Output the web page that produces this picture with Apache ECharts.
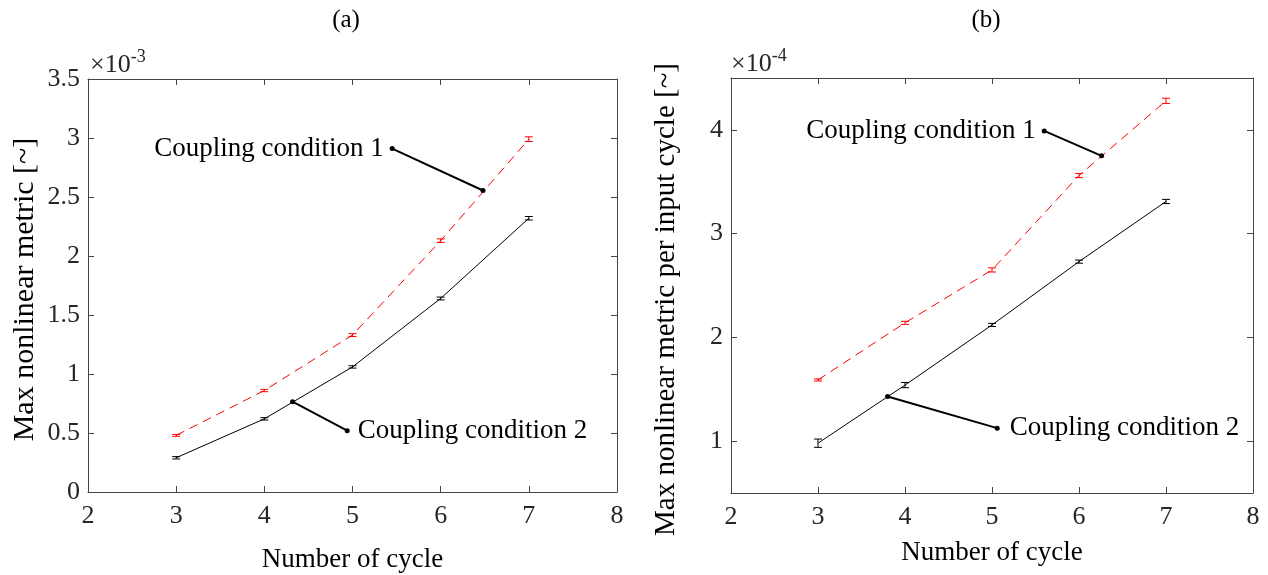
<!DOCTYPE html>
<html><head><meta charset="utf-8">
<script src="https://cdn.jsdelivr.net/npm/echarts@6/dist/echarts.min.js"></script>
<style>html,body{margin:0;padding:0;background:#fff}#c{width:1268px;height:575px}</style>
</head><body><div id="c"></div>
<script>
const xCycles = [3, 4, 5, 6, 7];
// (a) Max nonlinear metric, x1e-3
const aCond1 = [0.48, 0.86, 1.33, 2.13, 2.99];
const aCond1Err = [0.008, 0.01, 0.012, 0.015, 0.02];
const aCond2 = [0.29, 0.62, 1.06, 1.64, 2.32];
const aCond2Err = [0.01, 0.01, 0.01, 0.012, 0.015];
// (b) Max nonlinear metric per input cycle, x1e-4
const bCond1 = [1.59, 2.14, 2.65, 3.56, 4.28];
const bCond1Err = [0.01, 0.015, 0.02, 0.02, 0.025];
const bCond2 = [0.98, 1.54, 2.12, 2.73, 3.31];
const bCond2Err = [0.04, 0.025, 0.015, 0.015, 0.02];
const bYTicks = [1, 2, 3, 4];
// annotations: [text point, arrow point]
const annoText = ['Coupling condition 1', 'Coupling condition 2'];
const aAnno1 = [[5.45, 2.91], [6.48, 2.555]];
const aAnno2 = [[4.32, 0.765], [4.94, 0.52]];
const bAnno1 = [[5.6, 3.99], [6.26, 3.75]];
const bAnno2 = [[3.80, 1.43], [5.06, 1.125]];

const FONT = '"Liberation Serif", "Times New Roman", serif';
const AX = '#444';
const TICKFS = 26;

function errSeries(vals, errs, color, xi, yi) {
  return {
    type: 'custom', xAxisIndex: xi, yAxisIndex: yi, z: 4,
    data: xCycles.map((x, i) => [x, vals[i], errs[i]]),
    encode: {x: 0, y: 1},
    renderItem: function (params, api) {
      const x = api.value(0), y = api.value(1), e = api.value(2);
      const t = api.coord([x, y + e]), b = api.coord([x, y - e]);
      const w = 4;
      const st = {stroke: color, lineWidth: 1};
      return {type: 'group', children: [
        {type: 'line', shape: {x1: t[0], y1: t[1], x2: b[0], y2: b[1]}, style: st},
        {type: 'line', shape: {x1: t[0] - w, y1: t[1], x2: t[0] + w, y2: t[1]}, style: st},
        {type: 'line', shape: {x1: b[0] - w, y1: b[1], x2: b[0] + w, y2: b[1]}, style: st}
      ]};
    }
  };
}
function lineSeries(vals, color, dashed, xi, yi) {
  return {
    type: 'line', xAxisIndex: xi, yAxisIndex: yi, symbol: 'none', z: 3,
    data: xCycles.map((x, i) => [x, vals[i]]),
    lineStyle: {color: color, width: 1, type: dashed ? [9, 6] : 'solid'},
    animation: false
  };
}
function annoSeries(pts, text, pos, dist, xi, yi) {
  return {
    type: 'line', xAxisIndex: xi, yAxisIndex: yi, z: 5,
    symbol: 'circle', symbolSize: 5, itemStyle: {color: '#000'},
    lineStyle: {color: '#000', width: 2}, animation: false,
    data: pts.map((p, i) => i === 0 ? {value: p, label: {show: true, position: pos, distance: dist,
      formatter: text, color: '#000', fontFamily: FONT, fontSize: 27}} : {value: p})
  };
}
function xAx(gi, top, gap) {
  return {
    type: 'value', gridIndex: gi, position: top ? 'top' : 'bottom', min: 2, max: 8, interval: 1,
    name: top ? '' : 'Number of cycle', nameLocation: 'middle', nameGap: gap || 0,
    nameTextStyle: {fontFamily: FONT, fontSize: 27, color: '#000'},
    axisLine: {show: true, onZero: false, lineStyle: {color: AX, width: 1}},
    axisTick: {show: true, inside: true, length: 6, lineStyle: {color: AX}},
    axisLabel: {show: !top, fontFamily: FONT, fontSize: TICKFS, color: '#262626', margin: 11},
    splitLine: {show: false}
  };
}
function yAx(gi, right, cfg, name, gap, nameStyle) {
  return Object.assign({
    type: 'value', gridIndex: gi, position: right ? 'right' : 'left',
    name: right ? '' : name, nameLocation: 'middle', nameGap: gap,
    nameTextStyle: Object.assign({fontFamily: FONT, fontSize: 30, color: '#000'}, nameStyle || {}),
    axisLine: {show: true, onZero: false, lineStyle: {color: AX, width: 1}},
    axisTick: {show: true, inside: true, length: 6, lineStyle: {color: AX}},
    axisLabel: {show: !right, fontFamily: FONT, fontSize: TICKFS, color: '#262626', margin: 8},
    splitLine: {show: false}
  }, cfg);
}
const richMul = {a: {fontFamily: FONT, fontSize: 26, fill: '#262626', verticalAlign: 'bottom'},
                 s: {fontFamily: FONT, fontSize: 18, fill: '#262626', verticalAlign: 'top', padding: [0, 0, 12, 0]}};
const chart = echarts.init(document.getElementById('c'));
chart.setOption({
  backgroundColor: '#fff',
  animation: false,
  grid: [
    {left: 88, right: 651, top: 79, bottom: 83, outerBoundsMode: 'none', containLabel: false},
    {left: 731, right: 15, top: 78, bottom: 82, outerBoundsMode: 'none', containLabel: false}
  ],
  xAxis: [xAx(0, false, 54), xAx(0, true), xAx(1, false, 46), xAx(1, true)],
  yAxis: [
    yAx(0, false, {min: 0, max: 3.5, interval: 0.5}, 'Max nonlinear metric [~]', 48, {padding: [0, 8, 0, 0]}),
    yAx(0, true, {min: 0, max: 3.5, interval: 0.5}, '', 0),
    yAx(1, false, {min: 0.5, max: 4.5, axisTick: {show: true, inside: true, length: 6, lineStyle: {color: AX}, customValues: bYTicks},
      axisLabel: {show: true, fontFamily: FONT, fontSize: TICKFS, color: '#262626', margin: 8, customValues: bYTicks}},
      'Max nonlinear metric per input cycle [~]', 50, {fontSize: 29, padding: [0, 28, 0, 0]}),
    yAx(1, true, {min: 0.5, max: 4.5, axisTick: {show: true, inside: true, length: 6, lineStyle: {color: AX}, customValues: bYTicks}}, '', 0)
  ],
  series: [
    lineSeries(aCond1, '#ff0000', true, 0, 0),
    errSeries(aCond1, aCond1Err, '#ff0000', 0, 0),
    lineSeries(aCond2, '#000', false, 0, 0),
    errSeries(aCond2, aCond2Err, '#000', 0, 0),
    annoSeries(aAnno1, annoText[0], 'left', 6, 0, 0),
    annoSeries(aAnno2.slice().reverse(), annoText[1], 'right', 8, 0, 0),
    lineSeries(bCond1, '#ff0000', true, 2, 2),
    errSeries(bCond1, bCond1Err, '#ff0000', 2, 2),
    lineSeries(bCond2, '#000', false, 2, 2),
    errSeries(bCond2, bCond2Err, '#000', 2, 2),
    annoSeries(bAnno1, annoText[0], 'left', 6, 2, 2),
    annoSeries(bAnno2.slice().reverse(), annoText[1], 'right', 10, 2, 2)
  ],
  graphic: [
    {type: 'text', x: 346, y: 8, style: {text: '(a)', font: '25px ' + FONT, fill: '#000', textAlign: 'center'}},
    {type: 'text', x: 986, y: 8, style: {text: '(b)', font: '25px ' + FONT, fill: '#000', textAlign: 'center'}},
    {type: 'text', x: 90, y: 48, style: {text: '{a|×10}{s|-3}', rich: richMul}},
    {type: 'text', x: 731, y: 47, style: {text: '{a|×10}{s|-4}', rich: richMul}}
  ]
});
</script></body></html>
